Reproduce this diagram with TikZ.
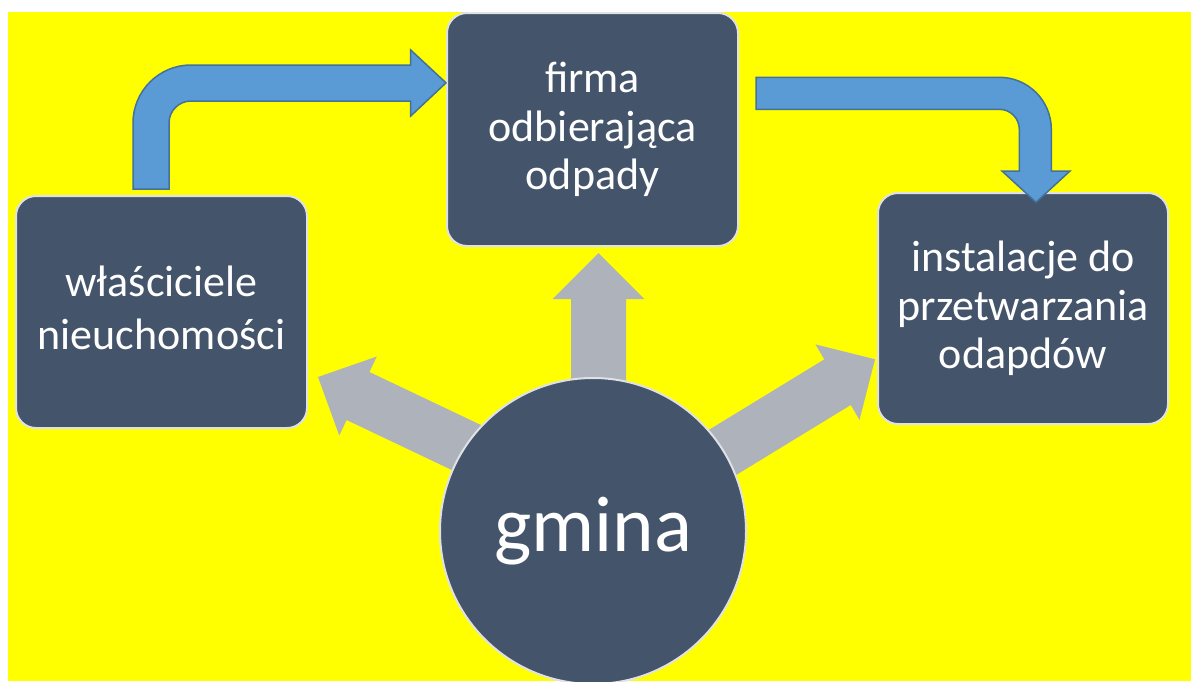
\documentclass[tikz,border=0pt]{standalone}
\usepackage{fontspec}
\setmainfont{Carlito}
\definecolor{bg}{RGB}{255,255,0}
\definecolor{boxfill}{HTML}{44546A}
\definecolor{boxline}{RGB}{224,225,228}
\definecolor{grayarrow}{RGB}{174,178,187}
\definecolor{bluefill}{HTML}{5B9BD5}
\definecolor{blueline}{HTML}{41719C}
\begin{document}
\begin{tikzpicture}[x=1pt,y=-1pt,
  box/.style={draw=boxline, line width=2pt, fill=boxfill, rounded corners=20pt,
    text=white, align=center, inner sep=0pt},
  boxtextA/.style={font=\fontsize{44}{53.3}\selectfont},
  boxtextB/.style={font=\fontsize{44}{48.3}\selectfont},
  hub/.style={circle, draw=boxline, line width=2pt, fill=boxfill, text=white,
    minimum size=306pt, inner sep=0pt, font=\fontsize{79}{90}\selectfont},
  grayblock/.style={fill=grayarrow},
  blueblock/.style={fill=bluefill, draw=blueline, line width=1.5pt, line join=miter}]
\useasboundingbox (0,0) rectangle (1191,681);
\fill[bg] (8,12) rectangle (1191,681);

% gray block arrows from the hub
\fill[grayblock] (571,420) -- (571,299) -- (552.6,299) -- (598.5,253) -- (644.4,299) -- (626,299) -- (626,420) -- cycle;
\fill[grayblock] (369.4,372) -- (376.75,356.5) -- (318,377) -- (339.25,435.5) -- (346.6,420) -- (482.1,484.4) -- (504.9,436.4) -- cycle;
\fill[grayblock] (824.25,359.4) -- (815.5,344.4) -- (875,359.3) -- (859.5,420) -- (850.75,405) -- (705.5,493.7) -- (679,448.1) -- cycle;

% hub
\node[hub] (gmina) at (593,531) {gmina};

% boxes
\node[box, boxtextA, minimum width=291pt, minimum height=232pt] (wlasc) at (161.5,312)
  {właściciele\\nieuchomości\rule[-8pt]{0pt}{8pt}};
\node[box, boxtextB, minimum width=291pt, minimum height=233pt] (firma) at (592.5,129.5)
  {firma\\odbierająca\\odpady};
\node[box, boxtextB, minimum width=290pt, minimum height=231pt] (inst) at (1023,308.5)
  {instalacje do\\przetwarzania\\odapdów};

% blue bent arrows
\draw[blueblock] (133,189) -- (133,123) arc[start angle=180, end angle=270, radius=58]
  -- (410.7,65) -- (410.7,50) -- (446,82.85) -- (410.7,116) -- (410.7,101)
  -- (191,101) arc[start angle=270, end angle=180, radius=22] -- (169,189) -- cycle;
\draw[blueblock] (756,77.3) -- (999.3,77.3) arc[start angle=270, end angle=360, radius=52]
  -- (1051.3,171) -- (1070,171) -- (1036,202.3) -- (1002,171) -- (1019.3,171)
  -- (1019.3,129.3) arc[start angle=0, end angle=-90, radius=20] -- (756,109.3) -- cycle;
\end{tikzpicture}
\end{document}
